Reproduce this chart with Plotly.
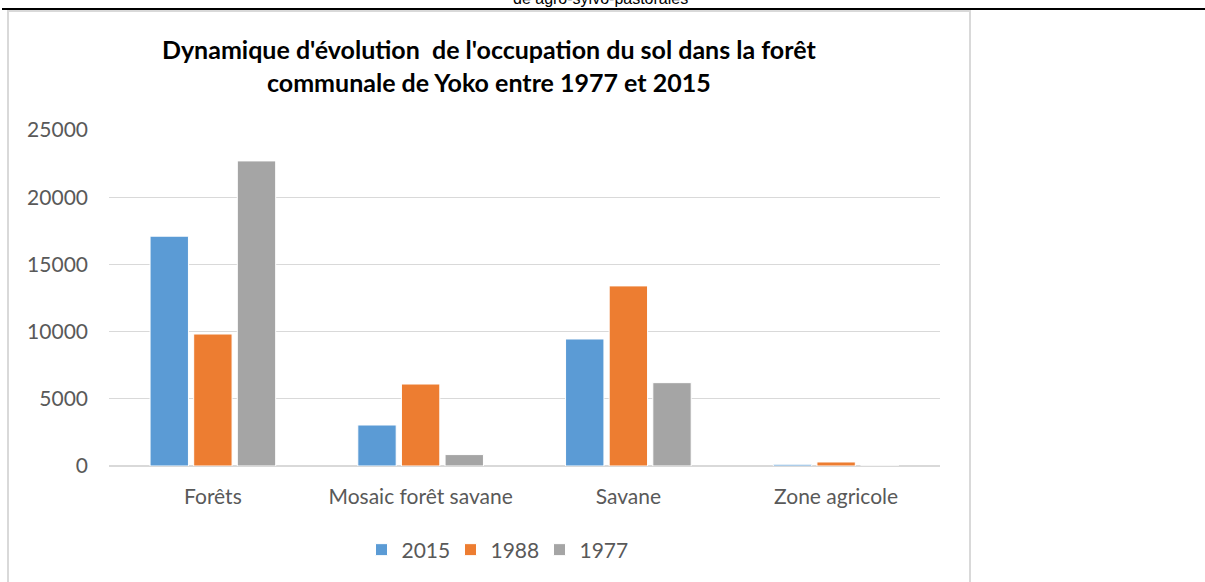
import plotly.graph_objects as go

categories = ["Forêts", "Mosaic forêt savane", "Savane", "Zone agricole"]
series_names = ["2015", "1988", "1977"]
v2015 = [17100, 3050, 9450, 130]
v1988 = [9820, 6100, 13400, 300]
v1977 = [22700, 850, 6200, 0]
colors = ["#5B9BD5", "#ED7D31", "#A5A5A5"]
y_ticks = [0, 5000, 10000, 15000, 20000, 25000]

W, H = 1205, 582
L, R, T, B = 109, 940, 130, 466  # plot area in px


def px_x(x):
    return (x - L) / (R - L)


def px_y(y):
    return (B - y) / (B - T)


fig = go.Figure()
for name, vals, col in zip(series_names, [v2015, v1988, v1977], colors):
    fig.add_trace(go.Bar(
        x=categories, y=vals, name=name,
        marker=dict(color=col, line=dict(color="white", width=1)),
    ))

fig.update_layout(
    width=W, height=H,
    margin=dict(l=L, r=W - R, t=T, b=H - B),
    paper_bgcolor="white", plot_bgcolor="white",
    barmode="group", bargap=0.37, bargroupgap=0.12,
    font=dict(family="Lato, Calibri, sans-serif", color="#595959", size=20),
    showlegend=True,
    legend=dict(orientation="h", x=px_x(495), xanchor="center", y=px_y(550), yanchor="middle",
                font=dict(size=21, color="#595959"), itemwidth=30, tracegroupgap=0,
                entrywidth=44, entrywidthmode="pixels",
                bgcolor="rgba(0,0,0,0)"),
    xaxis=dict(showgrid=False, showline=False, ticks="", ticklabelstandoff=16,
               tickfont=dict(size=21, color="#595959")),
    yaxis=dict(range=[0, 25000], tickvals=y_ticks, ticktext=[str(t) for t in y_ticks],
               showgrid=True, gridcolor="#d9d9d9", gridwidth=1,
               zeroline=True, zerolinecolor="#d9d9d9", zerolinewidth=1.5,
               showline=False, ticks="", ticklabelstandoff=20,
               tickfont=dict(size=21, color="#595959")),
)

# Chart box border
fig.add_shape(type="rect", xref="paper", yref="paper",
              x0=px_x(8), x1=px_x(970), y0=px_y(590), y1=px_y(11),
              line=dict(color="#d9d9d9", width=2), fillcolor="rgba(0,0,0,0)", layer="below")
# Top black rule
fig.add_shape(type="line", xref="paper", yref="paper",
              x0=px_x(2), x1=px_x(W), y0=px_y(9), y1=px_y(9),
              line=dict(color="black", width=2))

# Title
fig.add_annotation(xref="paper", yref="paper", x=px_x(489), y=px_y(65),
                   text="<b>Dynamique d'évolution  de l'occupation du sol dans la forêt<br>communale de Yoko entre 1977 et 2015</b>",
                   showarrow=False, xanchor="center", yanchor="middle",
                   font=dict(family="Lato, Calibri, sans-serif", size=25, color="black"))
# Text from the page above, cropped at the top edge as in the reference
fig.add_annotation(xref="paper", yref="paper", x=px_x(600), y=px_y(-2),
                   text="de agro-sylvo-pastorales", showarrow=False,
                   xanchor="center", yanchor="middle",
                   font=dict(family="Liberation Sans, Arial, sans-serif", size=16, color="black"))

fig.write_html("out.html", post_script="document.body.style.margin='0';",
               config={"displayModeBar": False})
